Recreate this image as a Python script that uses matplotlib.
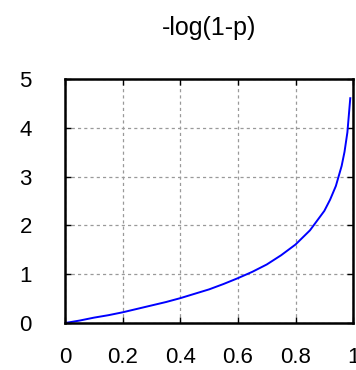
import matplotlib
matplotlib.use("Agg")
import matplotlib.pyplot as plt

# values
p = [0.0, 0.05, 0.1, 0.15, 0.2, 0.25, 0.3, 0.35, 0.4, 0.45, 0.5, 0.55, 0.6,
     0.65, 0.7, 0.75, 0.8, 0.85, 0.9, 0.92, 0.94, 0.96, 0.97, 0.98, 0.99]
y = [0.0, 0.05, 0.11, 0.16, 0.22, 0.29, 0.36, 0.43, 0.51, 0.6, 0.69, 0.8, 0.92,
     1.05, 1.2, 1.39, 1.61, 1.9, 2.3, 2.53, 2.81, 3.22, 3.51, 3.91, 4.61]
xticks = [0, 0.2, 0.4, 0.6, 0.8, 1]
xticklabels = ["0", "0.2", "0.4", "0.6", "0.8", "1"]
yticks = [0, 1, 2, 3, 4, 5]

plt.rcParams['font.family'] = ['Liberation Sans', 'DejaVu Sans']

fig = plt.figure(figsize=(3.56, 3.70), dpi=100)
ax = fig.add_axes([0.183, 0.127, 0.809, 0.659])

ax.plot(p, y, color="#0000ff", lw=1.4)

ax.set_xlim(0, 1)
ax.set_ylim(0, 5)
ax.set_xticks(xticks)
ax.set_xticklabels(xticklabels)
ax.set_yticks(yticks)
ax.grid(True, color="#999999", linestyle=(0, (2.5, 2.5)), lw=0.9)
ax.tick_params(direction="in", top=True, right=True, length=4, width=1,
               labelsize=16)
ax.tick_params(axis="x", pad=17)
ax.tick_params(axis="y", pad=24)
for s in ax.spines.values():
    s.set_linewidth(1.8)

ax.set_title("-log(1-p)", fontsize=18, pad=32)

fig.savefig("out.png", dpi=100)
